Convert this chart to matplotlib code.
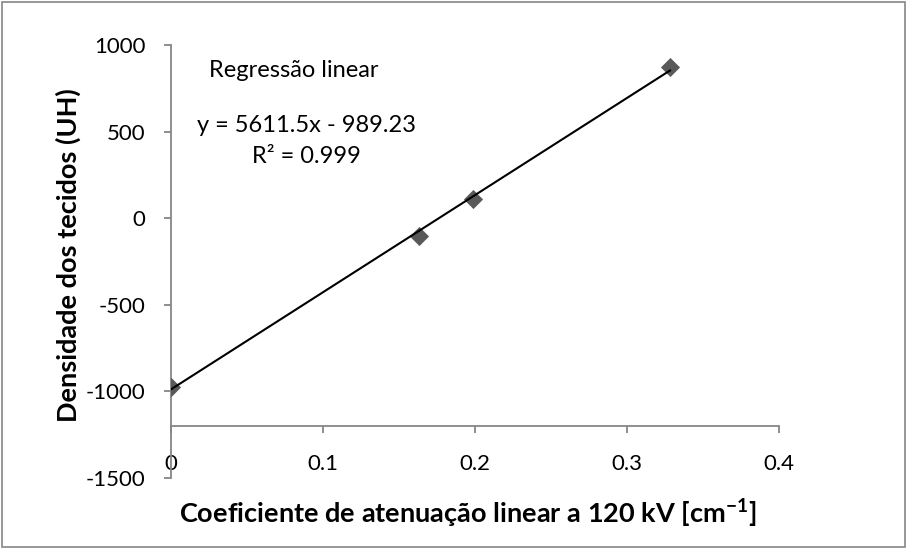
import matplotlib.pyplot as plt
from matplotlib.patches import Rectangle
import numpy as np

# dados
coef_atenuacao = [0.0, 0.1635, 0.199, 0.3283]
densidade_uh = [-974, -102, 110, 874]

# reta de regressao (equacao mostrada no grafico)
slope = 5611.5
intercept = -989.23

x_ticks = [0, 0.1, 0.2, 0.3, 0.4]
x_tick_labels = ["0", "0.1", "0.2", "0.3", "0.4"]
y_ticks = [-1500, -1000, -500, 0, 500, 1000]

plt.rcParams["font.family"] = ["Lato", "DejaVu Sans"]
plt.rcParams["axes.unicode_minus"] = False
AXIS_GRAY = "#868686"

fig = plt.figure(figsize=(9.08, 5.49), dpi=100)
ax = fig.add_axes([0.188, 0.1293, 0.670, 0.7887])

ax.scatter(coef_atenuacao, densidade_uh, marker="D", s=95, color="#595959",
           zorder=3, linewidths=0)

x_line = np.array([min(coef_atenuacao), max(coef_atenuacao)])
ax.plot(x_line, slope * x_line + intercept, color="black", linewidth=1.5, zorder=4)

ax.set_xlim(0, 0.4)
ax.set_ylim(-1500, 1000)
ax.set_xticks(x_ticks)
ax.set_xticklabels(x_tick_labels)
ax.set_yticks(y_ticks)

# eixos no estilo Excel: eixo x cruza em -1200
ax.spines["top"].set_visible(False)
ax.spines["right"].set_visible(False)
ax.spines["bottom"].set_position(("data", -1200))
for s in ("left", "bottom"):
    ax.spines[s].set_color(AXIS_GRAY)
    ax.spines[s].set_linewidth(1.3)
ax.tick_params(axis="both", colors=AXIS_GRAY, length=5, width=1.3,
               labelsize=16, labelcolor="black", direction="out")
ax.tick_params(axis="x", pad=15)
ax.tick_params(axis="y", pad=13)

fig.text(0.515, 0.0656,
         "Coeficiente de atenuação linear a 120 kV [cm$^{\\mathregular{-1}}$]",
         fontsize=19.5, fontweight="bold", ha="center", va="center")
fig.text(68 / 908, 1 - 255 / 549, "Densidade dos tecidos (UH)", fontsize=19.5,
         fontweight="bold", ha="center", va="center", rotation=90)

ax.text(0.0811, 854, "Regressão linear", fontsize=17, ha="center", va="center")
ax.text(0.0893, 537, "y = 5611.5x - 989.23", fontsize=17, ha="center", va="center")
ax.text(0.0893, 358, "R² = 0.999", fontsize=17, ha="center", va="center")

fig.patches.append(Rectangle((0.002, 0.003), 0.995, 0.994, transform=fig.transFigure,
                             fill=False, edgecolor=AXIS_GRAY, linewidth=1.2))

fig.savefig("out.png", dpi=100)
